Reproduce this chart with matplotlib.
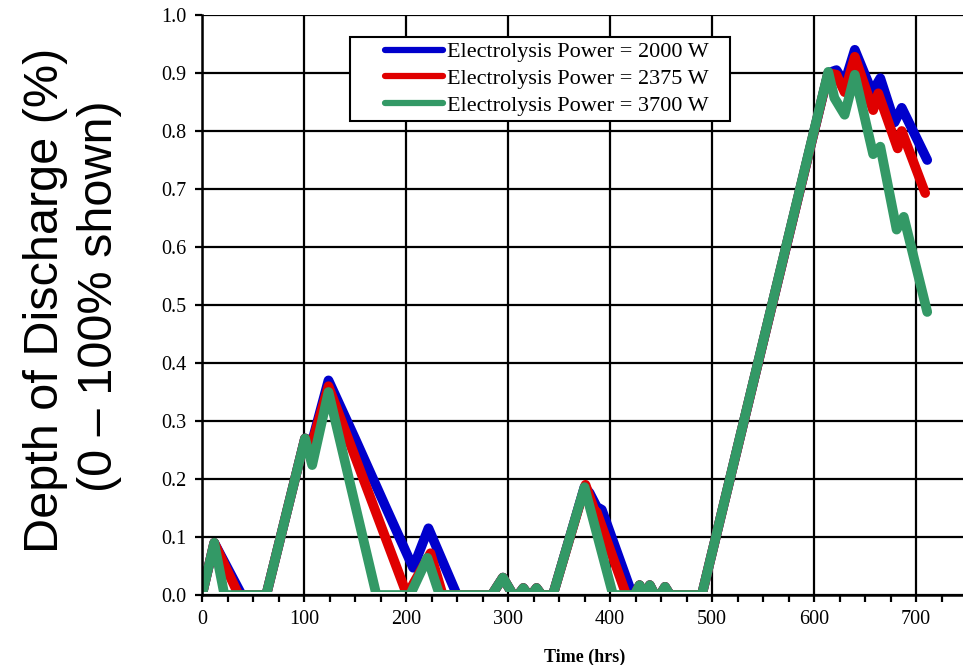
import numpy as np
import matplotlib
matplotlib.use("Agg")
import matplotlib.pyplot as plt
from matplotlib.lines import Line2D
from matplotlib.patches import Rectangle
from matplotlib.legend_handler import HandlerLine2D

# ---- data (hours, depth of discharge fraction) ----
t_2000 = [0, 12, 39, 63, 101, 108, 124, 150, 180, 207, 222, 250, 284, 295, 305, 310, 315, 320, 323, 328, 333,
          344, 375, 380, 387, 392, 422, 424, 429, 434, 436, 439, 444, 449, 454, 459, 490,
          614, 622, 630, 640, 657, 665, 679, 686, 711]
v_2000 = [0, 0.09, 0, 0, 0.27, 0.265, 0.37, 0.27, 0.152, 0.047, 0.115, 0, 0, 0.03, 0, 0, 0.012, 0, 0, 0.012, 0,
          0, 0.186, 0.176, 0.152, 0.147, 0, 0, 0.017, 0, 0, 0.017, 0, 0, 0.014, 0, 0,
          0.90, 0.905, 0.883, 0.94, 0.867, 0.891, 0.815, 0.84, 0.75]

t_2375 = [0, 12, 36, 63, 101, 108, 124, 201, 224, 236, 284, 295, 305, 310, 315, 320, 323, 328, 333,
          344, 376, 385, 387, 416, 424, 429, 434, 436, 439, 444, 449, 454, 459, 490,
          614, 622, 630, 640, 658, 663, 682, 686, 709]
v_2375 = [0, 0.09, 0, 0, 0.27, 0.262, 0.36, 0, 0.072, 0, 0, 0.03, 0, 0, 0.012, 0, 0, 0.012, 0,
          0, 0.19, 0.145, 0.143, 0, 0, 0.017, 0, 0, 0.017, 0, 0, 0.014, 0, 0,
          0.90, 0.897, 0.867, 0.928, 0.836, 0.865, 0.77, 0.80, 0.693]

t_3700 = [0, 12, 22, 63, 101, 108, 124, 171, 204, 221, 233, 284, 295, 305, 310, 315, 320, 323, 328, 333,
          344, 375, 403, 424, 429, 434, 436, 439, 444, 449, 454, 459, 490,
          614, 620, 630, 640, 658, 665, 681, 688, 711]
v_3700 = [0, 0.09, 0, 0, 0.27, 0.224, 0.35, 0, 0, 0.064, 0, 0, 0.03, 0, 0, 0.012, 0, 0, 0.012, 0,
          0, 0.186, 0, 0, 0.017, 0, 0, 0.017, 0, 0, 0.014, 0, 0,
          0.902, 0.857, 0.828, 0.897, 0.76, 0.773, 0.63, 0.652, 0.488]

labels = ["Electrolysis Power = 2000 W", "Electrolysis Power = 2375 W", "Electrolysis Power = 3700 W"]
colors = ["#0000cc", "#e00000", "#339966"]

x_ticks = [0, 100, 200, 300, 400, 500, 600, 700]
y_ticks = [0.0, 0.1, 0.2, 0.3, 0.4, 0.5, 0.6, 0.7, 0.8, 0.9, 1.0]

serif = ["Liberation Serif", "DejaVu Serif"]
sans = ["Liberation Sans", "DejaVu Sans"]

fig = plt.figure(figsize=(9.63, 6.65), dpi=100)
ax = fig.add_axes([202 / 963, 1 - 595 / 665, 765 / 963, 580 / 665])

ax.set_xlim(0, 750)
ax.set_ylim(0, 1.0)

clip = Rectangle((0, 0.005), 750, 1.2, transform=ax.transData, facecolor="none", edgecolor="none")
ax.add_patch(clip)

series = [(t_2000, v_2000), (t_2375, v_2375), (t_3700, v_3700)]
for (t, v), c in zip(series, colors):
    ln, = ax.plot(t, v, color=c, lw=7, solid_capstyle="round", solid_joinstyle="round", zorder=2)
    ln.set_clip_path(clip)

ax.set_xticks(x_ticks)
ax.set_xticks(np.arange(0, 751, 25), minor=True)
ax.set_yticks(y_ticks)
ax.set_yticklabels([f"{y:.1f}" for y in y_ticks])
ax.set_axisbelow(True)
ax.grid(True, which="major", color="black", lw=1.6)
for s in ["top", "right"]:
    ax.spines[s].set_visible(False)
for s in ["left", "bottom"]:
    ax.spines[s].set_linewidth(1.8)
    ax.spines[s].set_zorder(3)
ax.tick_params(which="major", direction="out", length=5, width=1.6, labelsize=14.5, pad=6)
ax.tick_params(which="minor", direction="out", length=5, width=1.6)
for lab in ax.get_xticklabels() + ax.get_yticklabels():
    lab.set_family(serif)

ax.set_xlabel("Time (hrs)", family=serif, fontsize=13, fontweight="bold", labelpad=14)

fig.text(45 / 963, 1 - 300 / 665, "Depth of Discharge (%)", rotation=90, ha="center", va="center",
         family=sans, fontsize=35)
fig.text(100 / 963, 1 - 296 / 665, "(0 \u2013 100% shown)", rotation=90, ha="center", va="center",
         family=sans, fontsize=35)


class OffsetHandler(HandlerLine2D):
    def get_xdata(self, legend, xdescent, ydescent, width, height, fontsize):
        x0 = -xdescent + 0.34 * width
        x1 = -xdescent + width
        xd = np.array([x0, x1])
        return xd, xd


handles = [Line2D([], [], color=c, lw=4.5, solid_capstyle="round") for c in colors]
leg = ax.legend(handles, labels, loc="upper left", bbox_to_anchor=(0.193, 0.962), borderaxespad=0,
                prop={"family": serif, "size": 16}, frameon=True, fancybox=False, edgecolor="black",
                framealpha=1, handlelength=4.0, handletextpad=0.15, labelspacing=0.28, borderpad=0.22,
                handler_map={Line2D: OffsetHandler()})
leg.get_frame().set_linewidth(1.5)
for txt in leg.get_texts():
    txt.set_text(txt.get_text() + "   ")

fig.savefig("out.png", dpi=100)
